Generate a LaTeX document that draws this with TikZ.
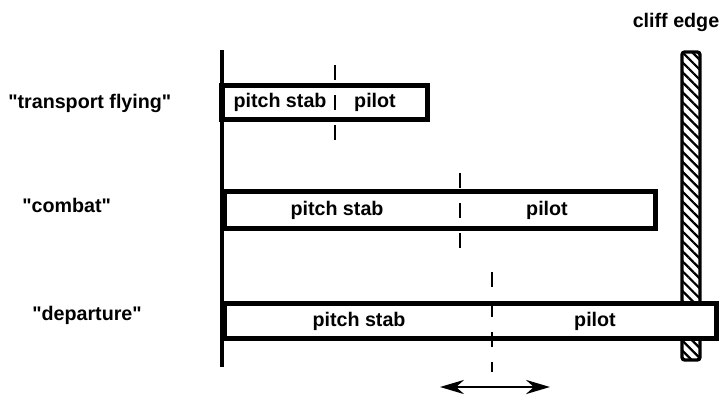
\documentclass[tikz,border=0pt]{standalone}
\usepackage{fontspec}
\setmainfont{Liberation Sans}
\usetikzlibrary{positioning,arrows.meta,patterns.meta}
\tikzset{
  >={Stealth[length=17pt,width=10pt]},
  phase/.style={draw, line width=3.6pt, fill=white, inner sep=0pt, outer sep=0pt, anchor=west},
  part/.style={font=\fontsize{14}{16}\selectfont\bfseries, inner sep=0pt},
  mode/.style={part, anchor=west},
  split/.style={line width=2pt, dash pattern=on 0.375cm off 0.375cm},
  wall/.style={draw, line width=2.4pt, rounded corners=2pt, inner sep=0pt, outer sep=0pt,
    pattern={Lines[angle=-45, distance=5pt, line width=1.6pt]}},
}

\begin{document}
\begin{tikzpicture}[x=0.025cm, y=-0.025cm]
    \useasboundingbox (0,0) rectangle (725,404);
    % cliff edge
    \node[wall, minimum width=0.45cm, minimum height=7.7cm] (cliff) at (691,206) {};
    \node[part] (clifftext) at (676,22) {cliff edge};
    % time axis
    \coordinate (axtop) at (222,50);
    \coordinate (axbot) at (222,367);
    \draw[line width=3pt] (axtop) -- (axbot);
    % modes
    \node[mode] (transport) at (8,103) {\textquotedbl transport flying\textquotedbl};
    \node[mode] (combat)    at (22,205) {\textquotedbl combat\textquotedbl};
    \node[mode] (departure) at (32,315) {\textquotedbl departure\textquotedbl};
    % phases
    \node[phase, minimum width=5.125cm, minimum height=0.85cm]  (transportbox) at (222,102.5) {};
    \node[phase, minimum width=10.775cm, minimum height=0.925cm] (combatbox)   at (224,210) {};
    \node[phase, minimum width=12.3cm, minimum height=0.875cm]  (departurebox) at (224,321) {};
    \node[part] (transportstab) at (280,102) {pitch stab};
    \node[part] (transportpilot) at (375,102) {pilot};
    \node[part] (combatstab)    at (337,210) {pitch stab};
    \node[part] (combatpilot)   at (547,210) {pilot};
    \node[part] (departurestab) at (359,321) {pitch stab};
    \node[part] (departurepilot) at (595,321) {pilot};
    % hand-over points
    \foreach \x/\a/\b in {335/65/140, 460/173/248, 492/272/372}
      \draw[split] (\x,\a) -- (\x,\b);
    % shift
    \coordinate (shiftl) at (440,387);
    \coordinate (shiftr) at (550,387);
    \draw[<->, line width=2pt] (shiftl) -- (shiftr);
\end{tikzpicture}
\end{document}
